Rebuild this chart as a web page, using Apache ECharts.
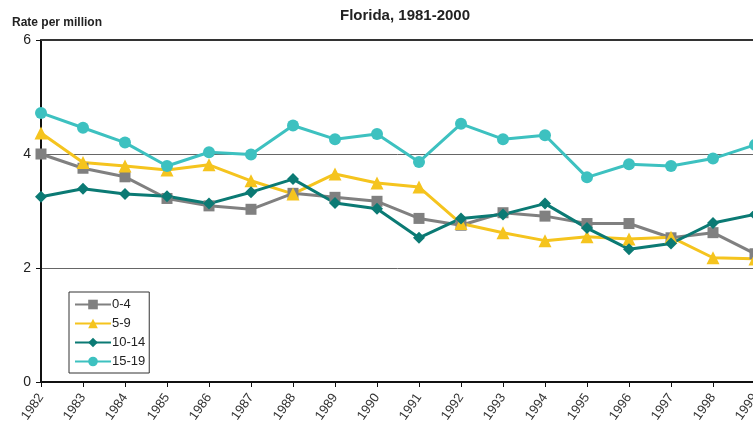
<!DOCTYPE html>
<html style="height: 100%">
<head>
<meta charset="utf-8">
<script src="https://cdn.jsdelivr.net/npm/echarts@6/dist/echarts.min.js"></script>
</head>
<body style="height: 100%; margin: 0; width: 100%;">
<div id="container" style="height: 421px; width: 753px;"></div>
<script type="text/javascript">
var years = ['1982','1983','1984','1985','1986','1987','1988','1989','1990',
             '1991','1992','1993','1994','1995','1996','1997','1998','1999'];
var age0_4   = [4.00,3.75,3.60,3.22,3.09,3.03,3.31,3.24,3.17,2.87,2.75,2.97,2.91,2.78,2.78,2.53,2.62,2.25];
var age5_9   = [4.37,3.85,3.79,3.72,3.81,3.53,3.30,3.65,3.49,3.42,2.78,2.62,2.48,2.55,2.51,2.54,2.18,2.16];
var age10_14 = [3.25,3.39,3.30,3.26,3.13,3.33,3.56,3.14,3.04,2.53,2.87,2.94,3.13,2.70,2.33,2.43,2.79,2.94];
var age15_19 = [4.72,4.46,4.20,3.79,4.03,3.99,4.50,4.26,4.35,3.86,4.53,4.26,4.33,3.59,3.82,3.79,3.92,4.16];

var myChart = echarts.init(document.getElementById('container'));
var font = 'Liberation Sans, Arial, sans-serif';

function line(name, data, color, symbol, size) {
    return {
        name: name,
        type: 'line',
        data: data,
        symbol: symbol,
        symbolSize: size,
        lineStyle: {color: color, width: 3},
        itemStyle: {color: color},
        clip: false,
        animation: false
    };
}

var option = {
    animation: false,
    title: [{
        text: 'Florida, 1981-2000',
        left: 400, top: 3, textAlign: 'center',
        textStyle: {fontFamily: font, fontSize: 15, fontWeight: 'bold', color: '#222'}
    }, {
        text: 'Rate per million',
        left: 7, top: 12,
        textStyle: {fontFamily: font, fontSize: 12, fontWeight: 'bold', color: '#222'}
    }],
    legend: {
        orient: 'vertical',
        left: 69, top: 292,
        padding: [6, 4, 5, 5],
        itemGap: 6,
        itemWidth: 36, itemHeight: 12,
        borderColor: '#333', borderWidth: 1,
        textStyle: {fontFamily: font, fontSize: 13, color: '#222', padding: [0, 0, 0, -4]},
        data: ['0-4', '5-9', '10-14', '15-19']
    },
    grid: {left: 41, right: -2, top: 40, bottom: 39, outerBoundsMode: 'none'},
    xAxis: [{
        type: 'category',
        data: years,
        boundaryGap: false,
        axisLine: {lineStyle: {color: '#111', width: 2}},
        axisTick: {alignWithLabel: true, length: 5, lineStyle: {color: '#111'}},
        axisLabel: {rotate: 55, fontFamily: font, fontSize: 13, color: '#333', margin: 13, interval: 0}
    }, {
        type: 'category',
        data: years,
        position: 'top',
        boundaryGap: false,
        axisLine: {lineStyle: {color: '#333', width: 2}},
        axisTick: {show: false},
        axisLabel: {show: false}
    }],
    yAxis: {
        type: 'value',
        min: 0, max: 6, interval: 2,
        axisLine: {show: true, lineStyle: {color: '#111', width: 2}},
        axisTick: {show: true, length: 5, lineStyle: {color: '#111'}},
        axisLabel: {fontFamily: font, fontSize: 14, color: '#222', margin: 10},
        splitLine: {lineStyle: {color: '#666', width: 1}}
    },
    series: [
        line('0-4', age0_4, '#808080', 'rect', 11),
        line('5-9', age5_9, '#F5C41E', 'triangle', 13),
        line('10-14', age10_14, '#0B7A74', 'diamond', 12),
        line('15-19', age15_19, '#3DC1C0', 'circle', 12)
    ]
};

myChart.setOption(option, true);
</script>
</body>
</html>
